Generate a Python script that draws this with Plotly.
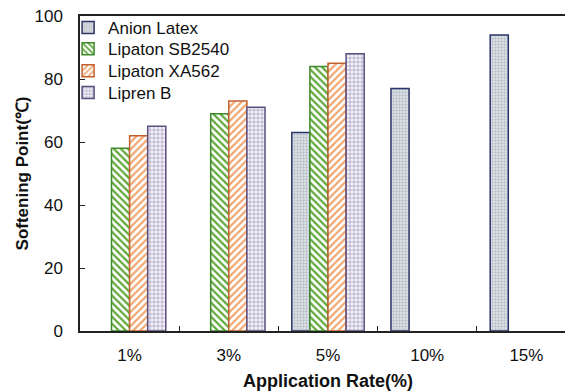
import plotly.graph_objects as go

categories = ["1%", "3%", "5%", "10%", "15%"]
anion_latex = [None, None, 63, 77, 94]
lipaton_sb2540 = [58, 69, 84, None, None]
lipaton_xa562 = [62, 73, 85, None, None]
lipren_b = [65, 71, 88, None, None]

series = [
    ("Anion Latex", anion_latex, ".", "#e3e7ea", "#b8c0c9", "#2b3468", 3, 0.5),
    ("Lipaton SB2540", lipaton_sb2540, "\\", "#ffffff", "#5fa83a", "#3f8a2a", 5, 0.45),
    ("Lipaton XA562", lipaton_xa562, "/", "#ffffff", "#f0a772", "#c0632f", 5, 0.45),
    ("Lipren B", lipren_b, "+", "#f4f2f8", "#aaa2c4", "#5b4e7e", 4, 0.35),
]
legend_ids = ["legend", "legend2", "legend3", "legend4"]
legend_y = [0.962, 0.895, 0.825, 0.756]

font = "Arial, Liberation Sans, sans-serif"

fig = go.Figure()
for (name, vals, shape, bg, fg, line, sz, sol), lid in zip(series, legend_ids):
    fig.add_trace(go.Bar(
        x=categories, y=vals, name=name, legend=lid,
        marker=dict(
            color=bg,
            line=dict(color=line, width=1.5),
            pattern=dict(shape=shape, bgcolor=bg, fgcolor=fg, size=sz, solidity=sol, fillmode="replace"),
        ),
    ))

legend_cfg = {}
for lid, ly in zip(legend_ids, legend_y):
    legend_cfg[lid] = dict(x=-0.024, y=ly, xanchor="left", yanchor="middle",
                           bgcolor="rgba(0,0,0,0)", font=dict(size=17, family=font))

fig.update_layout(
    width=568, height=383,
    margin=dict(l=72, r=0, t=8, b=60),
    barmode="group", bargap=0.27, bargroupgap=0,
    plot_bgcolor="white", paper_bgcolor="white",
    font=dict(family=font, size=17, color="#111111"),
    showlegend=True,
    **legend_cfg,
    xaxis=dict(
        title=dict(text="<b>Application Rate(%)</b>", font=dict(size=18, family=font), standoff=16),
        showline=True, linecolor="#222222", linewidth=1.5, mirror=True,
        ticks="inside", tickson="boundaries", ticklen=5, tickcolor="#222222",
        ticklabelstandoff=8,
        showgrid=False, zeroline=False, automargin=False,
    ),
    yaxis=dict(
        title=dict(text="<b>Softening Point(℃)</b>", font=dict(size=17, family=font), standoff=2),
        range=[0, 100], dtick=20,
        showline=True, linecolor="#222222", linewidth=1.5,
        ticks="inside", ticklen=5, tickcolor="#222222",
        ticklabelstandoff=12, ticklabeloverflow="allow",
        showgrid=False, zeroline=False, automargin=False,
    ),
)

fig.write_html("out.html")
